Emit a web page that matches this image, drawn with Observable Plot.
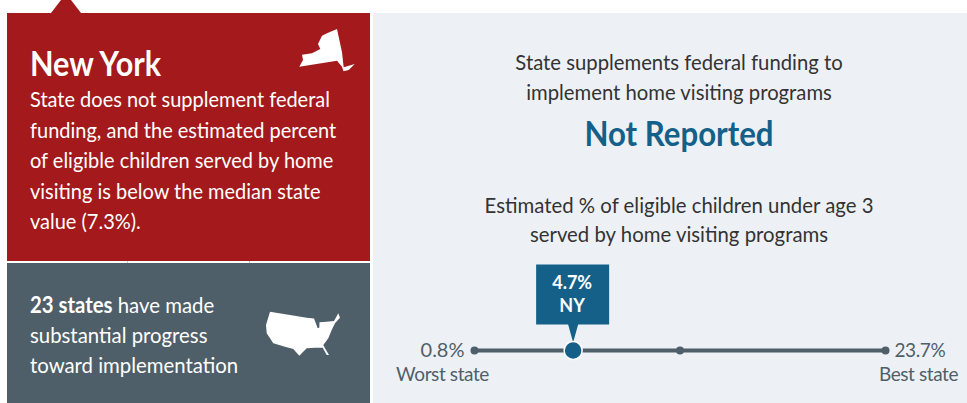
<!DOCTYPE html>
<html><head><meta charset="utf-8">
<script src="https://cdn.jsdelivr.net/npm/d3@7"></script>
<script src="https://cdn.jsdelivr.net/npm/@observablehq/plot@0.6"></script>
<style>
html,body{margin:0;padding:0;background:#fff;width:967px;height:403px;overflow:hidden}
body{position:relative;font-family:Lato,sans-serif}
.abs{position:absolute}
.line{position:absolute;white-space:nowrap;transform-origin:left center}
.ctr{text-align:center;left:373px;width:612px;transform-origin:center center}
#plot{position:absolute;left:373px;top:255px}
#plot svg{display:block;background:transparent}
#plot .lab text{letter-spacing:-.4px}
</style></head><body>
<div class="abs" style="left:7px;top:13px;width:363px;height:248px;background:#a3191c"></div>
<div class="abs" style="left:7px;top:263px;width:363px;height:140px;background:#4f5f69"></div>
<div class="abs" style="left:373px;top:13px;width:594px;height:390px;background:#edf1f6"></div>
<svg class="abs" style="left:0;top:0" width="373" height="403">
<path d="M51 13L61 0H71L81 13Z" fill="#a3191c"/>
<path d="M299.3 66.7L303 60L302 54.7L312 53.3L320.3 49L318 44L322 35.7L327 33.3L337 29L342 52.3L343.7 67.3L354.7 64L348.7 70L343.5 71.3L342 66.7L337 60.7Z" fill="#fff"/>
<path d="M270 311.7L290 315L306.7 317.7L314 318.5L316.5 325L317.5 328L319.3 327.7L319.5 322.3L326.7 321.7L334 321L338.3 313.3L340 317.7L335 323.3L331.7 330L328.3 338.3L323.3 345L325 348.3L329 355L326.7 355L322.7 347.7L315 347.7L306.7 348.3L299.3 355.7L293.3 349L285 346.7L273.3 343.3L266.7 333.3L266 325Z" fill="#fff"/>
<path d="M127.5 261v2M249.5 261v2" stroke="#ccc"/>
</svg>
<div id="txt"></div>
<div id="plot"></div>
<script>
// Chart values
const labels = ["Worst state", "NY", "Median state", "Best state"];
const values = [0.8, 4.7, 7.3, 23.7];
const ranks = [0, 12, 25, 50];
const title = "New York";
const bodyLines = ["State does not supplement federal","funding, and the estimated percent","of eligible children served by home","visiting is below the median state","value (7.3%)."];
const progressLines = ["<b>23 states</b> have made","substantial progress","toward implementation"];
const headA = ["State supplements federal funding to","implement home visiting programs"];
const status = "Not Reported";
const headB = ["Estimated % of eligible children under age 3","served by home visiting programs"];

const txt = document.getElementById("txt");
function add(html, css, sx, cls){const d=document.createElement("div");d.className="line "+(cls||"");d.style.cssText=css+`;transform:scaleX(${sx})`;d.innerHTML=html;txt.appendChild(d);}
add(title,"left:30px;top:42.5px;font:bold 34px/40px Lato;color:#fff",0.9);
bodyLines.forEach((t,i)=>add(t,`left:30px;top:${83+i*30.5}px;font:22px/31px Lato;color:#fff`,0.908));
progressLines.forEach((t,i)=>add(t,`left:30px;top:${290+i*30}px;font:22px/30px Lato;color:#fff`,0.925));
headA.forEach((t,i)=>add(t,`top:${47+i*29.5}px;font:22px/30px Lato;color:#333`,0.921,"ctr"));
add(status,"top:111px;font:bold 34px/44px Lato;color:#146088",0.917,"ctr");
headB.forEach((t,i)=>add(t,`top:${190+i*29}px;font:22px/30px Lato;color:#333`,0.925,"ctr"));

const rows = labels.map((label,i)=>({label,value:values[i],rank:ranks[i]}));
const ends = rows.filter(d=>d.label!=="NY");
const ny = rows.filter(d=>d.label==="NY");
const outer = [rows[0],rows[3]];
const callout = {draw(c){ // box above the point, pointer tip on the point
  c.moveTo(0,-8);c.lineTo(-5,-26);c.lineTo(-37,-26);c.lineTo(-37,-86);c.lineTo(36,-86);c.lineTo(36,-26);c.lineTo(5,-26);c.closePath();
}};
const slate="#4f5f69", blue="#146088";
const chart = Plot.plot({
  width:594,height:148,margin:0,marginLeft:101,marginRight:82,
  style:{background:"transparent",fontFamily:"Lato"},
  x:{domain:[0,50],axis:null},
  y:{domain:[-1,1],range:[95,95],axis:null},
  marks:[
    Plot.line(rows,{x:"rank",y:()=>0,stroke:slate,strokeWidth:4}),
    Plot.dot(ends,{x:"rank",y:()=>0,r:4,fill:slate}),
    Plot.dot(ny,{x:"rank",y:()=>0,symbol:callout,fill:blue,stroke:"none"}),
    Plot.dot(ny,{x:"rank",y:()=>0,r:9,fill:blue,stroke:"#fff",strokeWidth:1.5}),
    Plot.text(ny,{x:"rank",y:()=>0,text:d=>`${d.value}%`,dx:-1,dy:-67.5,fill:"#fff",fontSize:18,fontWeight:700}),
    Plot.text(ny,{x:"rank",y:()=>0,text:"label",dx:-1,dy:-44.5,fill:"#fff",fontSize:18,fontWeight:700}),
    Plot.text([outer[0]],{x:"rank",y:()=>0,text:d=>`${d.value}%`,dx:-10,textAnchor:"end",fill:slate,fontSize:20}),
    Plot.text([outer[1]],{x:"rank",y:()=>0,text:d=>`${d.value}%`,dx:9,textAnchor:"start",fill:slate,fontSize:19,className:"lab"}),
    Plot.text([outer[0]],{x:"rank",y:()=>0,text:"label",dx:-32,dy:24,fill:slate,fontSize:19,className:"lab"}),
    Plot.text([outer[1]],{x:"rank",y:()=>0,text:"label",dx:33,dy:24,fill:slate,fontSize:19,className:"lab"})
  ]
});
document.getElementById("plot").appendChild(chart);
</script>
</body></html>
